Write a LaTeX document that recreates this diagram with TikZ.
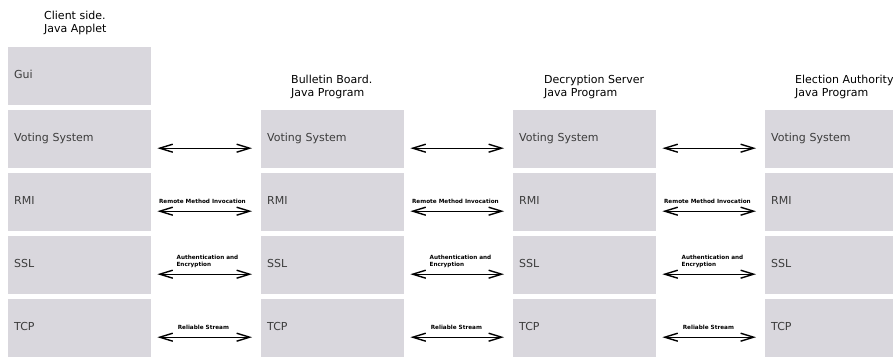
\documentclass[tikz,border=0pt]{standalone}
\usepackage{fontspec}
\setmainfont{DejaVu Sans}
\usetikzlibrary{arrows.meta}
\definecolor{layerfill}{RGB}{217,215,221}
\definecolor{layertext}{RGB}{60,60,60}
\begin{document}
\begin{tikzpicture}[x=1pt,y=-1pt,
  layer/.style={fill=layerfill, draw=none, anchor=north west,
    minimum width=143pt, minimum height=58pt, text width=131pt,
    inner xsep=6pt, align=left, text height=5pt, text depth=0pt,
    font=\fontsize{11}{13}\selectfont, text=layertext},
  head/.style={anchor=base west, inner sep=0pt, align=left,
    font=\fontsize{11}{13.5}\selectfont},
  link/.style={{Straight Barb[length=13pt,width=8pt,line width=1.4pt]}-{Straight Barb[length=13pt,width=8pt,line width=1.4pt]},
    line width=1pt},
  tag/.style={inner sep=0pt, align=left,
    font=\fontsize{5.7}{7}\selectfont\bfseries}]
\useasboundingbox (0,0) rectangle (893,356);

% protocol stacks
\node[layer] (c1r1) at (8,47)  {Gui};
\node[layer] (c1r2) at (8,110) {Voting System};
\node[layer] (c1r3) at (8,173) {RMI};
\node[layer] (c1r4) at (8,236) {SSL};
\node[layer] (c1r5) at (8,299) {TCP};

\node[layer] (c2r2) at (261,110) {Voting System};
\node[layer] (c2r3) at (261,173) {RMI};
\node[layer] (c2r4) at (261,236) {SSL};
\node[layer] (c2r5) at (261,299) {TCP};

\node[layer] (c3r2) at (513,110) {Voting System};
\node[layer] (c3r3) at (513,173) {RMI};
\node[layer] (c3r4) at (513,236) {SSL};
\node[layer] (c3r5) at (513,299) {TCP};

\node[layer] (c4r2) at (765,110) {Voting System};
\node[layer] (c4r3) at (765,173) {RMI};
\node[layer] (c4r4) at (765,236) {SSL};
\node[layer] (c4r5) at (765,299) {TCP};

% column headings (anchored at the baseline of the second line)
\node[head] (h1) at (44,32.5) {Client side.\\Java Applet};
\node[head] (h2) at (291,96.5) {Bulletin Board.\\Java Program};
\node[head] (h3) at (544,96.5) {Decryption Server\\Java Program};
\node[head] (h4) at (795,96.5) {Election Authority\\Java Program};

% links between neighbouring stacks
\foreach \a/\b in {c1/c2, c2/c3, c3/c4}{
  \foreach \r in {r2,r3,r4,r5}{
    \draw[link] ([xshift=6pt,yshift=-9pt]\a\r.east) -- ([xshift=-9pt,yshift=-9pt]\b\r.west);
  }
  \node[tag, anchor=base] (rmi\a) at ([xshift=51pt]\a r3.north east |- 0,203) {Remote Method Invocation};
  \node[tag, anchor=base west] (ssl\a) at ([xshift=25pt]\a r4.north east |- 0,266) {Authentication and\\Encryption};
  \node[tag, anchor=base] (tcp\a) at ([xshift=52pt]\a r5.north east |- 0,329) {Reliable Stream};
}
\end{tikzpicture}
\end{document}
